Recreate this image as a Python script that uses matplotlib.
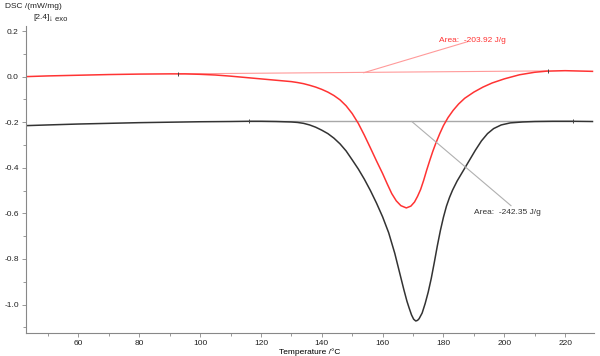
import numpy as np
import matplotlib.pyplot as plt
from matplotlib.ticker import MultipleLocator

# ---------- data ----------
black_T = [43, 50, 60, 70, 80, 90, 100, 110, 116, 120, 125, 130, 132, 134, 136, 138,
           140, 142, 144, 146, 148, 150, 152, 154, 156, 158, 160, 162, 164, 165.5,
           167, 168, 168.7, 169.5, 170.2, 170.9, 171.5, 172, 173, 174, 175, 176, 177,
           178, 179, 180, 181, 182, 183, 184.5, 186.5, 188.5, 190.5, 192.5,
           194.5, 196.5, 199, 202, 206, 210, 216, 222, 229]
black_dsc = [-0.215, -0.212, -0.208, -0.205, -0.202, -0.200, -0.198, -0.197, -0.196,
             -0.196, -0.197, -0.199, -0.201, -0.205, -0.212, -0.222, -0.235, -0.250,
             -0.270, -0.295, -0.326, -0.365, -0.405, -0.450, -0.500, -0.555, -0.615,
             -0.685, -0.775, -0.855, -0.935, -0.985, -1.014, -1.045, -1.064, -1.072,
             -1.069, -1.062, -1.037, -0.995, -0.945, -0.885, -0.815, -0.742, -0.675,
             -0.617, -0.568, -0.530, -0.498, -0.458, -0.413, -0.368, -0.323,
             -0.282, -0.250, -0.228, -0.212, -0.203, -0.199, -0.197, -0.196, -0.196,
             -0.197]

red_T = [43, 50, 60, 70, 80, 90, 95, 100, 105, 110, 115, 120, 125, 130, 132, 134, 136,
         138, 140, 142, 144, 146, 148, 150, 152, 154, 156, 158, 160, 161.5, 163, 164.5,
         166, 167.8, 169.3, 170.5, 171.5, 172.5, 173.5, 174.5, 175.5, 176.5, 177.5,
         178.8, 180, 181.5, 183.2, 185, 187, 190, 193, 196, 200, 205, 210, 214, 220, 229]
red_dsc = [0.000, 0.003, 0.006, 0.009, 0.011, 0.012, 0.012, 0.010, 0.007, 0.002,
           -0.004, -0.010, -0.016, -0.022, -0.026, -0.031, -0.038, -0.046, -0.056,
           -0.068, -0.083, -0.102, -0.128, -0.162, -0.205, -0.257, -0.313, -0.370,
           -0.425, -0.470, -0.513, -0.545, -0.566, -0.576, -0.568, -0.550, -0.525,
           -0.495, -0.455, -0.410, -0.368, -0.328, -0.292, -0.250, -0.215, -0.180,
           -0.148, -0.120, -0.095, -0.068, -0.046, -0.028, -0.010, 0.008, 0.019,
           0.024, 0.026, 0.023]

# integration baselines (start/end)
red_base_T = [92.8, 214.3]
red_base_dsc = [0.012, 0.025]
black_base_T = [116.0, 222.6]
black_base_dsc = [-0.196, -0.196]

red_area = "Area:  -203.92 J/g"
black_area = "Area:  -242.35 J/g"

RED = "#ff3333"
DARK = "#333333"

plt.rcParams["font.family"] = ["Liberation Sans", "DejaVu Sans"]
plt.rcParams["font.size"] = 6

fig = plt.figure(figsize=(6, 3.56), dpi=100)
ax = fig.add_axes([0.043, 0.065, 0.947, 0.862])

# baselines
ax.plot(red_base_T, red_base_dsc, color="#ff9a9a", lw=0.8)
ax.plot(black_base_T, black_base_dsc, color="#a8a8a8", lw=1.0)

# curves
ax.plot(black_T, black_dsc, color=DARK, lw=1.1, solid_joinstyle="round")
ax.plot(red_T, red_dsc, color=RED, lw=1.1, solid_joinstyle="round")

# little marks at baseline limits
ax.plot(red_base_T, red_base_dsc, ls="none", marker="|", ms=3, mew=0.7, color="#444444")
ax.plot(black_base_T, black_base_dsc, ls="none", marker="|", ms=3, mew=0.7, color="#444444")

# area annotations
ax.plot([153.8, 187.9], [0.017, 0.153], color="#ff9a9a", lw=0.8)
ax.text(178.6, 0.160, red_area, color=RED, fontsize=6, va="center", ha="left")
ax.plot([169.6, 202.2], [-0.197, -0.566], color="#b0b0b0", lw=0.8)
ax.text(190.1, -0.596, black_area, color=DARK, fontsize=6, va="center", ha="left")

ax.set_xlim(42.7, 229.5)
ax.set_ylim(-1.124, 0.222)
ax.xaxis.set_major_locator(MultipleLocator(20))
ax.xaxis.set_minor_locator(MultipleLocator(10))
ax.yaxis.set_major_locator(MultipleLocator(0.2))
ax.yaxis.set_minor_locator(MultipleLocator(0.1))
ax.yaxis.set_major_formatter(plt.FuncFormatter(lambda v, p: f"{v:.1f}"))

for s in ["top", "right"]:
    ax.spines[s].set_visible(False)
for s in ["left", "bottom"]:
    ax.spines[s].set_color("#888888")
    ax.spines[s].set_linewidth(0.8)
ax.tick_params(which="both", colors="#888888", labelcolor="#222222", width=0.6)
ax.tick_params(which="major", length=3, pad=2)
ax.tick_params(which="minor", length=2)

ax.set_xlabel("Temperature /°C", fontsize=6, labelpad=1)

fig.text(0.008, 0.982, "DSC /(mW/mg)", fontsize=6, va="center", ha="left", color="#222222")
fig.text(0.055, 0.952, "[2.4]", fontsize=6, va="center", ha="left", color="#222222")
fig.text(0.082, 0.945, "↓ exo", fontsize=5.5, va="center", ha="left", color="#222222")

fig.savefig("out.png", dpi=100)
